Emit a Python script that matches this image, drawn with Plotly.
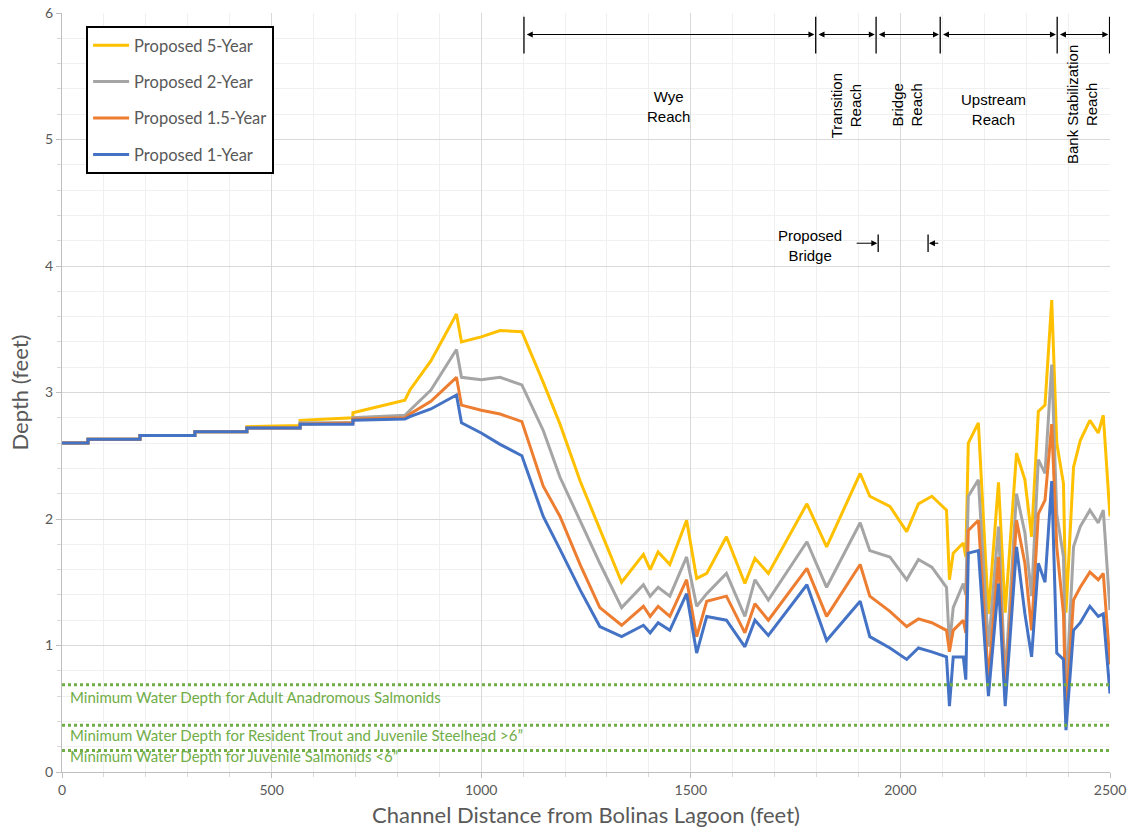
import plotly.graph_objects as go

# ---------------- data ----------------
distance_ft = [0, 62, 62, 186, 186, 317, 317, 441, 441, 568, 568, 694, 694, 818, 830, 880,
               941, 953, 1000, 1045, 1097, 1148, 1188, 1236, 1283, 1335, 1387, 1403, 1422,
               1450, 1490, 1514, 1538, 1585, 1629, 1653, 1685, 1777, 1824, 1904, 1927, 1975,
               2015, 2043, 2075, 2110, 2117, 2126, 2150, 2156, 2162, 2186, 2210, 2234, 2250,
               2277, 2297, 2313, 2329, 2345, 2361, 2373, 2389, 2395, 2413, 2429, 2452, 2472,
               2484, 2500]

depth_5yr = [2.60, 2.60, 2.63, 2.63, 2.66, 2.66, 2.69, 2.69, 2.73, 2.74, 2.78, 2.80, 2.84, 2.94,
             3.02, 3.25, 3.62, 3.40, 3.44, 3.49, 3.48, 3.08, 2.75, 2.30, 1.92, 1.50, 1.72, 1.60,
             1.74, 1.64, 1.99, 1.53, 1.57, 1.86, 1.49, 1.69, 1.57, 2.12, 1.78, 2.36, 2.18, 2.10,
             1.90, 2.12, 2.18, 2.07, 1.52, 1.73, 1.81, 1.70, 2.60, 2.76, 1.25, 2.29, 1.26, 2.52,
             2.31, 1.86, 2.85, 2.90, 3.73, 2.60, 2.28, 1.26, 2.41, 2.62, 2.78, 2.68, 2.82, 2.02]

depth_2yr = [2.60, 2.60, 2.63, 2.63, 2.66, 2.66, 2.69, 2.69, 2.72, 2.72, 2.76, 2.76, 2.80, 2.82,
             2.86, 3.02, 3.34, 3.12, 3.10, 3.12, 3.06, 2.70, 2.33, 1.98, 1.65, 1.30, 1.48, 1.39,
             1.46, 1.39, 1.70, 1.31, 1.41, 1.57, 1.23, 1.52, 1.36, 1.82, 1.46, 1.97, 1.75, 1.70,
             1.52, 1.68, 1.62, 1.46, 1.00, 1.30, 1.49, 1.40, 2.18, 2.31, 0.99, 1.94, 0.73, 2.20,
             1.89, 1.39, 2.47, 2.36, 3.22, 2.04, 1.70, 0.60, 1.78, 1.94, 2.07, 1.97, 2.07, 1.28]

depth_15yr = [2.60, 2.60, 2.63, 2.63, 2.66, 2.66, 2.69, 2.69, 2.72, 2.72, 2.75, 2.76, 2.79, 2.80,
              2.83, 2.93, 3.12, 2.90, 2.86, 2.83, 2.77, 2.26, 2.02, 1.64, 1.30, 1.16, 1.31, 1.23,
              1.31, 1.23, 1.52, 1.07, 1.35, 1.39, 1.10, 1.33, 1.20, 1.61, 1.23, 1.64, 1.39, 1.27,
              1.15, 1.21, 1.18, 1.12, 0.95, 1.12, 1.20, 1.10, 1.91, 1.99, 0.73, 1.70, 0.60, 1.99,
              1.65, 1.12, 2.04, 2.15, 2.75, 1.78, 1.25, 0.46, 1.36, 1.46, 1.58, 1.52, 1.57, 0.85]

depth_1yr = [2.60, 2.60, 2.63, 2.63, 2.66, 2.66, 2.69, 2.69, 2.72, 2.72, 2.75, 2.75, 2.78, 2.79,
             2.81, 2.87, 2.98, 2.76, 2.68, 2.59, 2.50, 2.02, 1.76, 1.44, 1.15, 1.07, 1.16, 1.10,
             1.18, 1.12, 1.41, 0.94, 1.23, 1.20, 0.99, 1.20, 1.08, 1.48, 1.04, 1.35, 1.07, 0.98,
             0.89, 0.98, 0.95, 0.91, 0.52, 0.91, 0.91, 0.73, 1.73, 1.75, 0.60, 1.49, 0.52, 1.78,
             1.25, 0.91, 1.65, 1.50, 2.30, 0.94, 0.89, 0.33, 1.12, 1.18, 1.31, 1.23, 1.25, 0.62]

series_names = ["Proposed 5-Year", "Proposed 2-Year", "Proposed 1.5-Year", "Proposed 1-Year"]
series_colors = ["#FFC000", "#A5A5A5", "#ED7D31", "#4472C4"]

threshold_depths = [0.69, 0.37, 0.17]
threshold_labels = ["Minimum Water Depth for Adult Anadromous Salmonids",
                    "Minimum Water Depth for Resident Trout and Juvenile Steelhead >6\u201d",
                    "Minimum Water Depth for Juvenile Salmonids <6\u201d"]
threshold_label_y = [0.595, 0.29, 0.125]

reach_bounds = [1102, 1798, 1942, 2095, 2374, 2499]
reach_labels = ["Wye<br>Reach", "Transition<br>Reach", "Bridge<br>Reach",
                "Upstream<br>Reach", "Bank Stabilization<br>Reach"]
reach_label_x = [1446, 1870, 2016, 2221, 2433]
reach_label_y = [5.26, 5.27, 5.27, 5.24, 5.28]
reach_label_angle = [0, -90, -90, 0, -90]

bridge_bounds = [1947, 2066]

# ---------------- figure ----------------
fig = go.Figure()
for name, color, ys in zip(series_names, series_colors,
                           [depth_5yr, depth_2yr, depth_15yr, depth_1yr]):
    fig.add_trace(go.Scatter(x=distance_ft, y=ys, mode="lines", name=name,
                             legendgroup=name,
                             line=dict(color=color, width=3)))

GREEN = "#70AD47"
for d, lab, ly in zip(threshold_depths, threshold_labels, threshold_label_y):
    fig.add_shape(type="line", xref="x", yref="y", x0=0, x1=2500, y0=d, y1=d,
                  line=dict(color=GREEN, width=3, dash="dot"))
    fig.add_annotation(x=15, y=ly, xref="x", yref="y", text=lab, showarrow=False,
                       xanchor="left", yanchor="middle",
                       font=dict(family="Lato", size=15, color=GREEN))

# reach dimension lines
arrow_y = 5.83
for b in reach_bounds:
    fig.add_shape(type="line", xref="x", yref="y", x0=b, x1=b, y0=5.68, y1=5.97,
                  line=dict(color="black", width=1.3))
for a, b in zip(reach_bounds[:-1], reach_bounds[1:]):
    fig.add_annotation(x=b - 3, y=arrow_y, ax=a + 3, ay=arrow_y, xref="x", yref="y",
                       axref="x", ayref="y", text="", showarrow=True,
                       arrowhead=2, arrowside="end+start", arrowsize=1.2,
                       arrowwidth=1, arrowcolor="black", standoff=0, startstandoff=0)
for t, lx, ly, ang in zip(reach_labels, reach_label_x, reach_label_y, reach_label_angle):
    fig.add_annotation(x=lx, y=ly, xref="x", yref="y", text=t, showarrow=False,
                       textangle=ang, xanchor="center", yanchor="middle",
                       font=dict(family="Liberation Sans", size=15, color="black"))

# proposed bridge markers
for b in bridge_bounds:
    fig.add_shape(type="line", xref="x", yref="y", x0=b, x1=b, y0=4.11, y1=4.25,
                  line=dict(color="black", width=1.3))
fig.add_annotation(x=bridge_bounds[0] - 2, y=4.18, ax=1892, ay=4.18, xref="x", yref="y",
                   axref="x", ayref="y", text="", showarrow=True, arrowhead=2,
                   arrowsize=1.2, arrowwidth=1, arrowcolor="black", standoff=0)
fig.add_annotation(x=bridge_bounds[1] + 2, y=4.18, ax=2094, ay=4.18, xref="x", yref="y",
                   axref="x", ayref="y", text="", showarrow=True, arrowhead=2,
                   arrowsize=1.2, arrowwidth=1, arrowcolor="black", standoff=0)
fig.add_annotation(x=1784, y=4.16, xref="x", yref="y", text="Proposed<br>Bridge",
                   showarrow=False, xanchor="center", yanchor="middle",
                   font=dict(family="Liberation Sans", size=15, color="black"))

AX_GRAY = "#595959"
fig.update_layout(
    width=1130, height=836,
    margin=dict(l=62, r=20, t=13, b=64, autoexpand=False),
    paper_bgcolor="white", plot_bgcolor="white",
    showlegend=True,
    legend=dict(x=0.023, y=0.983, xanchor="left", yanchor="top",
                bgcolor="white", bordercolor="black", borderwidth=2,
                font=dict(family="Lato", size=16.5, color=AX_GRAY),
                tracegroupgap=12, traceorder="grouped",
                itemwidth=36),
    xaxis=dict(range=[0, 2500], dtick=500, tick0=0, automargin=False,
               showgrid=True, gridcolor="#D9D9D9", gridwidth=1,
               zeroline=False, showline=True, linecolor="#BFBFBF", linewidth=1,
               ticks="outside", ticklen=5, tickcolor="#BFBFBF",
               tickfont=dict(family="Lato", size=14, color=AX_GRAY),
               minor=dict(dtick=100, showgrid=True, gridcolor="#F0F0F0",
                          ticks="outside", ticklen=4, tickcolor="#D9D9D9"),
               title=dict(text="Channel Distance from Bolinas Lagoon (feet)",
                          font=dict(family="Lato", size=22, color=AX_GRAY), standoff=10)),
    yaxis=dict(range=[0, 6], dtick=1, tick0=0, automargin=False,
               showgrid=True, gridcolor="#D9D9D9", gridwidth=1,
               zeroline=False, showline=True, linecolor="#BFBFBF", linewidth=1,
               ticks="outside", ticklen=5, tickcolor="#BFBFBF",
               tickfont=dict(family="Lato", size=14, color=AX_GRAY),
               minor=dict(dtick=0.2, showgrid=True, gridcolor="#F0F0F0",
                          ticks="outside", ticklen=4, tickcolor="#D9D9D9"),
               title=dict(text="Depth (feet)",
                          font=dict(family="Lato", size=22, color=AX_GRAY), standoff=10)),
)

fig.write_html("out.html")
